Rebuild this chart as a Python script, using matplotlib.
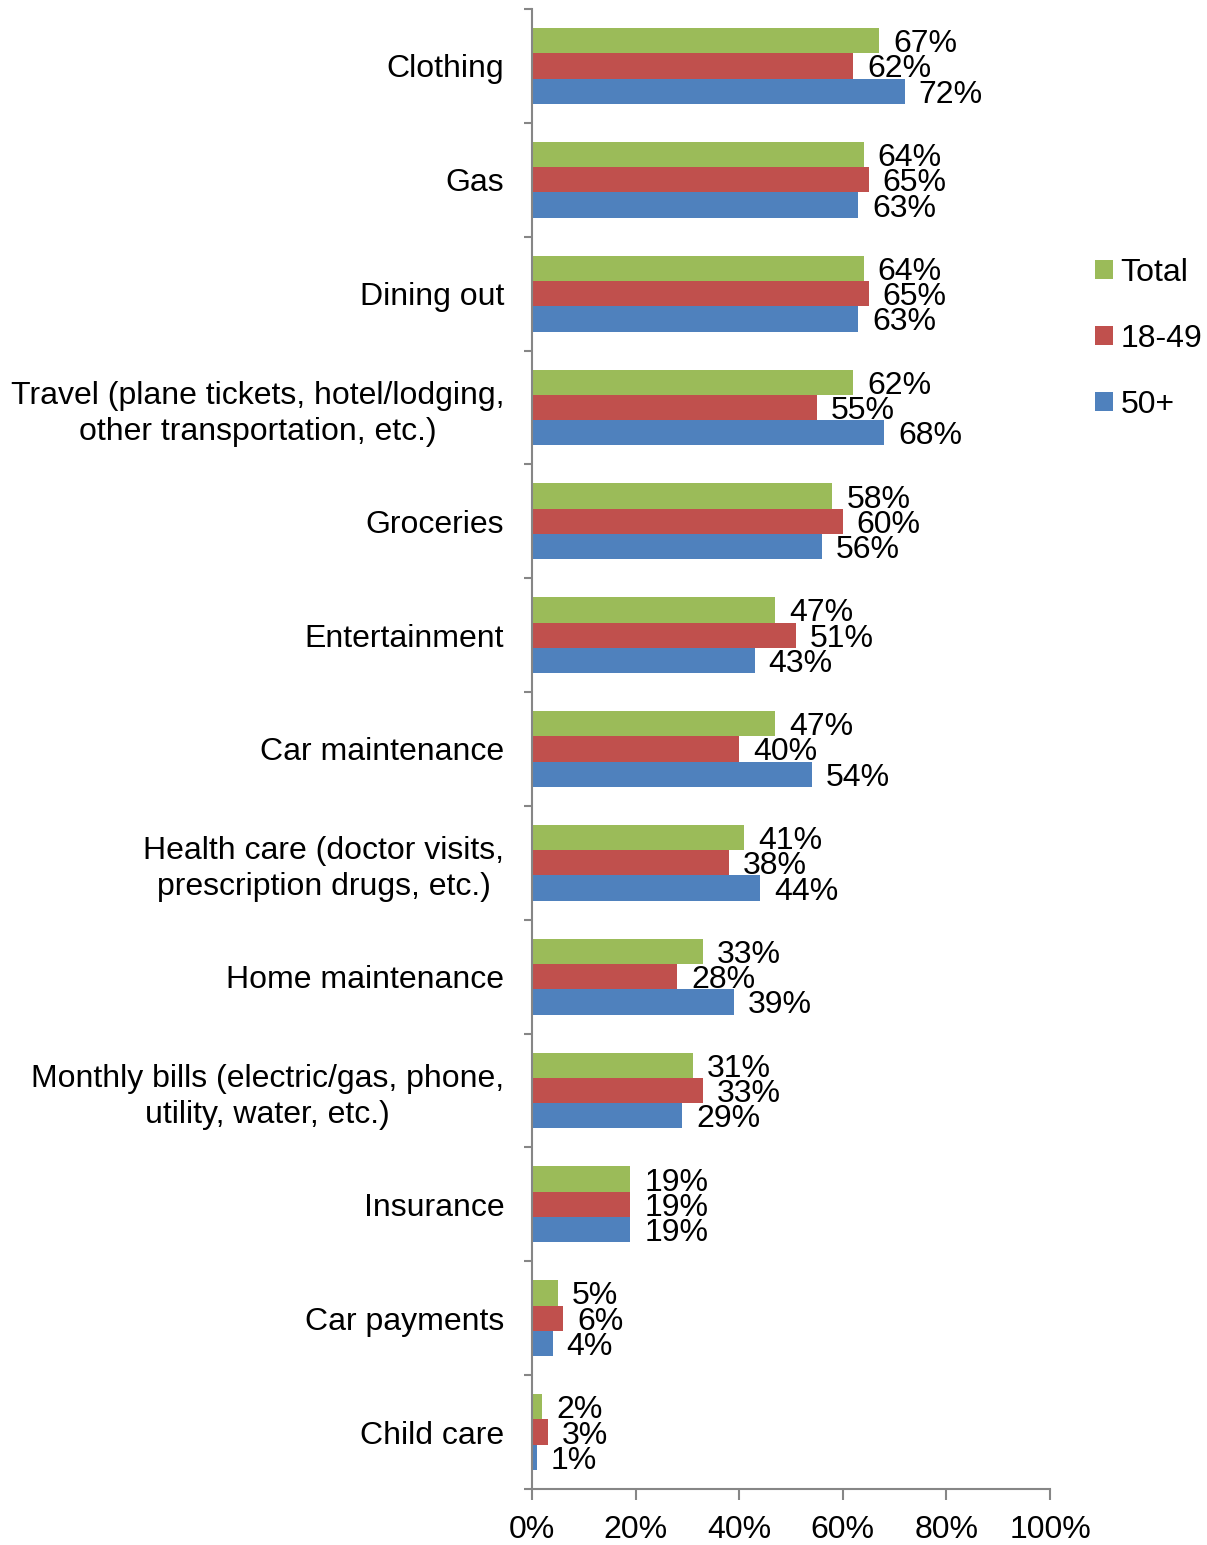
"""Horizontal grouped bar chart: share of respondents cutting back, by spending category and age group."""
import numpy as np
import matplotlib
matplotlib.use("Agg")
import matplotlib.pyplot as plt
from matplotlib.patches import Patch

plt.rcParams["font.family"] = ["Liberation Sans", "DejaVu Sans"]

# data (top to bottom as in the chart)
CATEGORIES = [
    "Clothing",
    "Gas",
    "Dining out",
    "Travel (plane tickets, hotel/lodging,\nother transportation, etc.)",
    "Groceries",
    "Entertainment",
    "Car maintenance",
    "Health care (doctor visits,\nprescription drugs, etc.)",
    "Home maintenance",
    "Monthly bills (electric/gas, phone,\nutility, water, etc.)",
    "Insurance",
    "Car payments",
    "Child care",
]
TOTAL = [67, 64, 64, 62, 58, 47, 47, 41, 33, 31, 19, 5, 2]
AGE_18_49 = [62, 65, 65, 55, 60, 51, 40, 38, 28, 33, 19, 6, 3]
AGE_50_PLUS = [72, 63, 63, 68, 56, 43, 54, 44, 39, 29, 19, 4, 1]
SERIES_NAMES = ["Total", "18-49", "50+"]
X_TICKS = [0, 20, 40, 60, 80, 100]

COLORS = {"Total": "#9BBB59", "18-49": "#C0504D", "50+": "#4F81BD"}
AXIS_GREY = "#868686"
FS = 23

fig = plt.figure(figsize=(12.07, 15.45), dpi=100)
ax = fig.add_axes([532 / 1207, 56 / 1545, 518 / 1207, 1480 / 1545])

n = len(CATEGORIES)
# category i sits at y = n-1-i so the first one is on top
ypos = np.arange(n)[::-1].astype(float)
bar_h = 0.222

series = [(SERIES_NAMES[0], TOTAL, +bar_h),
          (SERIES_NAMES[1], AGE_18_49, 0.0),
          (SERIES_NAMES[2], AGE_50_PLUS, -bar_h)]

for name, vals, off in series:
    bars = ax.barh(ypos + off, vals, height=bar_h, color=COLORS[name],
                   edgecolor="none", zorder=2)
    for b, v in zip(bars, vals):
        ax.annotate(f"{v}%", xy=(b.get_width(), b.get_y() + b.get_height() / 2),
                    xytext=(10, -2.5), textcoords="offset points",
                    ha="left", va="center", fontsize=FS, color="black",
                    zorder=3)

ax.set_xlim(0, 100)
ax.set_ylim(-0.5, n - 0.5)

ax.set_xticks(X_TICKS)
ax.set_xticklabels([f"{t}%" for t in X_TICKS], fontsize=FS)

# boundary ticks (major, unlabeled) and category labels (minor, no tick mark)
ax.set_yticks(np.arange(n + 1) - 0.5)
ax.set_yticklabels([])
ax.set_yticks(ypos, minor=True)
ax.set_yticklabels(CATEGORIES, minor=True, fontsize=FS, multialignment="center",
                   linespacing=1.25)
ax.tick_params(axis="y", which="major", length=6, width=1.5, color=AXIS_GREY,
               direction="out")
ax.tick_params(axis="y", which="minor", length=0, pad=20)
ax.tick_params(axis="x", length=8, width=1.5, color=AXIS_GREY, direction="out",
               pad=11)

for side in ("top", "right"):
    ax.spines[side].set_visible(False)
for side in ("left", "bottom"):
    ax.spines[side].set_color(AXIS_GREY)
    ax.spines[side].set_linewidth(1.5)

handles = [Patch(facecolor=COLORS[s], edgecolor="none", label=s) for s in SERIES_NAMES]
fig.legend(handles=handles, loc="upper left", bbox_to_anchor=(1095 / 1207, 1 - 258 / 1545),
           frameon=False, fontsize=FS, handlelength=0.55, handleheight=0.55,
           handletextpad=0.25, labelspacing=1.12, borderaxespad=0, borderpad=0)

fig.savefig("out.png", dpi=100)
